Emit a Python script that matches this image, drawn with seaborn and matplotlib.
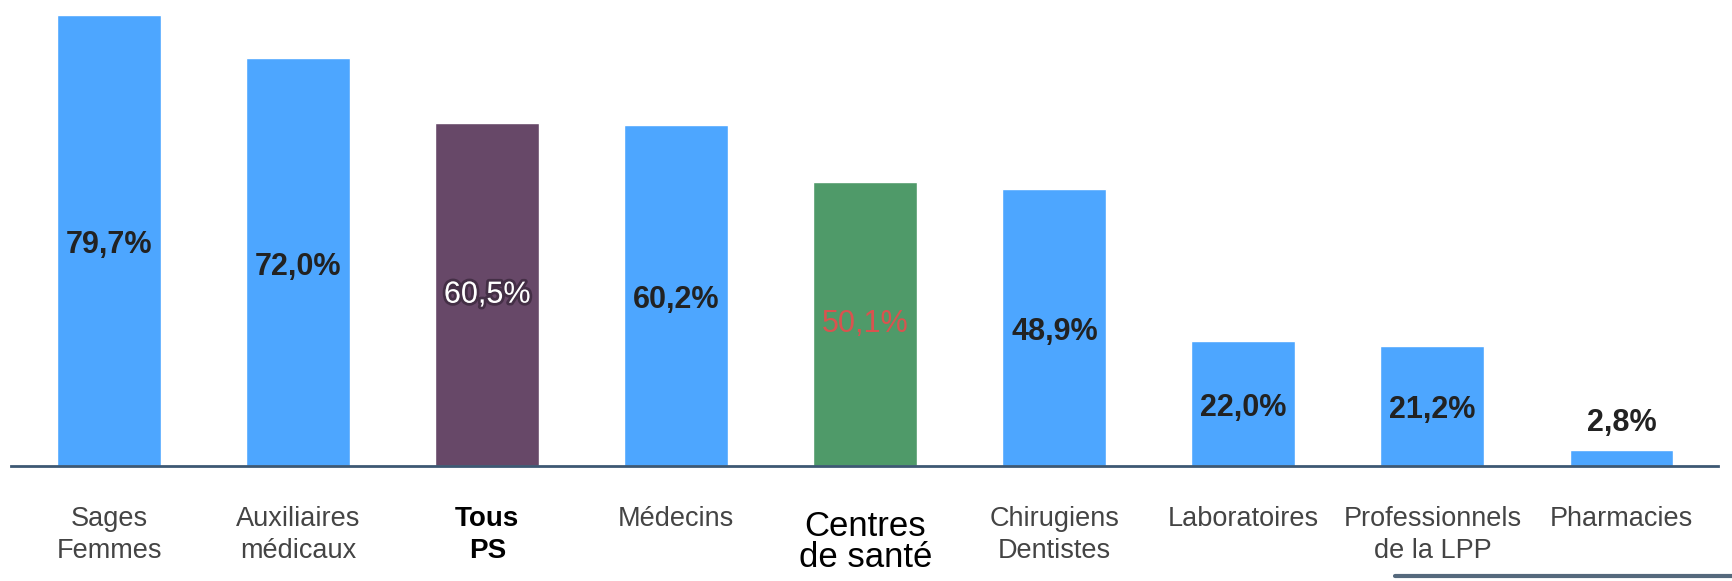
import matplotlib
matplotlib.use("Agg")
import matplotlib.pyplot as plt
import matplotlib.patheffects as pe
from matplotlib.lines import Line2D
from matplotlib.transforms import ScaledTranslation
import seaborn as sns

categories = ["Sages\nFemmes", "Auxiliaires\nmédicaux", "Tous\nPS", "Médecins",
              "Centres\nde santé", "Chirugiens\nDentistes", "Laboratoires",
              "Professionnels\nde la LPP", "Pharmacies"]
values = [79.7, 72.0, 60.5, 60.2, 50.1, 48.9, 22.0, 21.2, 2.8]
value_labels = ["79,7%", "72,0%", "60,5%", "60,2%", "50,1%", "48,9%", "22,0%", "21,2%", "2,8%"]

BLUE = "#4da6ff"
PURPLE = "#674868"
GREEN = "#4f9a69"
bar_colors = [BLUE, BLUE, PURPLE, BLUE, GREEN, BLUE, BLUE, BLUE, BLUE]

sns.set_style("white")
plt.rcParams['font.family'] = ['Liberation Sans', 'DejaVu Sans']

fig = plt.figure(figsize=(17.33, 5.81), dpi=100)
ax = fig.add_axes([0.0063, 0.198, 0.985, 0.802])

sns.barplot(x=categories, y=values, hue=categories, palette=bar_colors,
            legend=False, width=0.55, saturation=1, ax=ax)

ax.set_xlim(-0.52, 8.51)
ax.set_ylim(0, 82.3)
ax.set_yticks([])
ax.set_xlabel("")
ax.set_ylabel("")
for side in ["top", "right", "left"]:
    ax.spines[side].set_visible(False)
ax.spines["bottom"].set_color("#3d5873")
ax.spines["bottom"].set_linewidth(2)

# tick labels: plain grey, with the two highlighted groups in black
ax.tick_params(axis="x", length=0, pad=29)
for i, lab in enumerate(ax.get_xticklabels()):
    lab.set_linespacing(1.3)
    if i == 2:
        lab.set_fontsize(20)
        lab.set_fontweight("bold")
        lab.set_color("black")
    elif i == 4:
        lab.set_fontsize(25)
        lab.set_color("black")
        lab.set_linespacing(0.92)
        # this one sits a little lower than the others
        lab.set_transform(lab.get_transform() + ScaledTranslation(0, -0.04, fig.dpi_scale_trans))
    else:
        lab.set_fontsize(19.5)
        lab.set_color("#444444")

# value labels
for i, (v, txt) in enumerate(zip(values, value_labels)):
    if i == 2:
        ax.text(i, v / 2, txt, ha="center", va="center", fontsize=22,
                color="white",
                path_effects=[pe.withStroke(linewidth=4, foreground="#2e1f30", alpha=0.6)])
    elif i == 4:
        ax.text(i, v / 2, txt, ha="center", va="center", fontsize=22,
                color="#d9534f")
    elif v < 10:
        ax.text(i, v + 2.2, txt, ha="center", va="bottom", fontsize=22,
                fontweight="bold", color="#222222")
    else:
        ax.text(i, v / 2 - 0.8, txt, ha="center", va="center", fontsize=22,
                fontweight="bold", color="#222222")

# stray frame edge in the bottom-right corner of the original
fig.add_artist(Line2D([0.805, 1.0], [0.008, 0.008], transform=fig.transFigure,
                      color="#55697d", linewidth=3, solid_capstyle="round"))

fig.savefig("out.png", dpi=100)
